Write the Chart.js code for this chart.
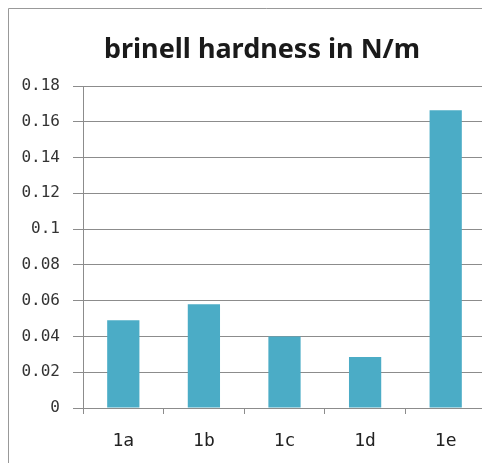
<!DOCTYPE html>
<html>
<head>
<meta charset="utf-8">
<script src="https://cdn.jsdelivr.net/npm/chart.js@4/dist/chart.umd.min.js"></script>
<style>
  html, body { margin: 0; padding: 0; background: #fff; overflow: hidden; }
  #page { position: relative; width: 482px; height: 463px; overflow: hidden; }
  #chart { position: absolute; left: 0; top: 0; }
</style>
</head>
<body>
<div id="page">
  <canvas id="chart" width="524" height="463"></canvas>
</div>
<script>
const categories = ["1a", "1b", "1c", "1d", "1e"];
const hardness = [0.049, 0.058, 0.040, 0.0285, 0.1665];
const yTickLabels = ["0", "0.02", "0.04", "0.06", "0.08", "0.1", "0.12", "0.14", "0.16", "0.18"];

const gridColor = "#8c8c8c";
const ctx = document.getElementById("chart").getContext("2d");

// excel-style outer frame, only left and top edges are inside the picture
const framePlugin = {
  id: "frame",
  beforeDraw(chart) {
    const c = chart.ctx;
    c.save();
    c.strokeStyle = "#999";
    c.lineWidth = 1;
    c.beginPath();
    c.moveTo(8.5, chart.height);
    c.lineTo(8.5, 8.5);
    c.lineTo(chart.width, 8.5);
    c.stroke();
    c.restore();
  },
};

new Chart(ctx, {
  type: "bar",
  data: {
    labels: categories,
    datasets: [
      {
        label: "brinell hardness in N/m",
        data: hardness,
        backgroundColor: "#4bacc6",
        barPercentage: 0.4,
        categoryPercentage: 1,
      },
    ],
  },
  options: {
    responsive: false,
    animation: false,
    devicePixelRatio: 1,
    layout: { padding: 0 },
    plugins: {
      legend: { display: false },
      tooltip: { enabled: false },
      title: {
        display: true,
        text: "brinell hardness in N/m",
        color: "#1a1a1a",
        font: { family: "Noto Sans", size: 27, weight: "bold" },
        padding: { top: 34, bottom: 19.6 },
      },
    },
    scales: {
      x: {
        grid: {
          offset: true,
          drawOnChartArea: false,
          tickLength: 6,
          color: gridColor,
        },
        border: { display: false },
        ticks: {
          color: "#222",
          font: { family: "DejaVu Sans Mono", size: 18 },
          padding: 17,
        },
        afterFit: (scale) => { scale.height = 55; },
      },
      y: {
        min: 0,
        max: 0.18,
        ticks: {
          stepSize: 0.02,
          color: "#333",
          font: { family: "DejaVu Sans Mono", size: 16 },
          padding: 13,
          callback: (value, index) => yTickLabels[index],
        },
        grid: { color: gridColor, tickLength: 10 },
        border: { color: gridColor },
        afterFit: (scale) => { scale.width = 83; },
      },
      // empty axis on the right, keeps the title centred like the cropped original
      spacer: {
        position: "right",
        display: true,
        grid: { display: false },
        border: { display: false },
        ticks: { display: false },
        afterFit: (scale) => { scale.width = 38; },
      },
    },
  },
  plugins: [framePlugin],
});
</script>
</body>
</html>
